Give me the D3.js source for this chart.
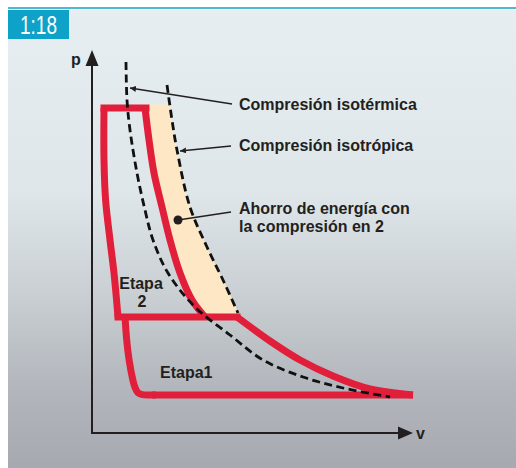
<!DOCTYPE html>
<html>
<head>
<meta charset="utf-8">
<script src="https://cdn.jsdelivr.net/npm/d3@7"></script>
<style>
  body { margin: 0; background: #fff; }
  svg { display: block; }
  .lbl { font-family: "Liberation Sans", Arial, sans-serif; font-weight: bold; fill: #231f20; }
</style>
</head>
<body>
<div id="chart"></div>
<script>
// p-v diagram values (v, p) in arbitrary units
var stage2Left = [[0.6, 16.25], [0.6, 13.65], [0.68, 11.65], [0.9, 9.65], [1.1, 8.0], [1.3, 5.8]];
var stage2Top = [[0.6, 16.25], [2.7, 16.25]];
var stage2Curve = [[2.65, 16.25], [2.85, 14.65], [3.1, 13.0], [3.5, 11.3], [3.9, 9.65], [4.4, 8.0], [5.0, 6.65], [5.65, 5.8]];
var midLine = [[1.3, 5.8], [7.25, 5.8]];
var stage1Left = [[1.65, 5.8], [1.72, 4.7], [1.85, 3.6], [2.05, 2.55], [2.25, 1.9], [2.8, 1.9], [3.2, 1.9]];
var stage1Bottom = [[3.0, 1.9], [16.05, 1.9]];
var stage1Curve = [[7.25, 5.8], [8.9, 4.6], [10.4, 3.65], [12.05, 2.85], [13.9, 2.2], [16.05, 1.9]];
var isothermal = [[1.7, 18.55], [1.75, 16.65], [1.9, 15.15], [2.25, 13.0], [2.65, 11.15], [3.05, 9.65], [3.8, 8.0], [5.15, 6.3], [6.9, 4.9], [8.55, 3.65], [10.55, 2.8], [12.55, 2.25], [14.9, 1.8]];
var isotropic = [[3.75, 17.4], [4.0, 15.65], [4.25, 14.15], [4.9, 11.3], [5.75, 9.3], [6.55, 7.65], [7.3, 6.0]];

// annotation anchors (v, p) and their texts
var notes = [
  { anchor: [1.9, 17.25], tail: [232, 104], lines: ["Compresión isotérmica"], y: 110, mark: "arrow" },
  { anchor: [4.4, 14.1], tail: [231, 146], lines: ["Compresión isotrópica"], y: 151, mark: "arrow" },
  { anchor: [4.3, 10.65], tail: [231, 212], lines: ["Ahorro de energía con", "la compresión en 2"], y: 214, mark: "dot" }
];

var svgWidth = 516;
var svgHeight = 468;

var svg = d3.select("#chart")
  .append("svg")
  .attr("width", svgWidth)
  .attr("height", svgHeight);

var defs = svg.append("defs");

var grad = defs.append("linearGradient")
  .attr("id", "bg")
  .attr("x1", 0).attr("y1", 0).attr("x2", 0).attr("y2", 1);
grad.append("stop").attr("offset", "0%").attr("stop-color", "#e6eef1");
grad.append("stop").attr("offset", "40%").attr("stop-color", "#dfe6ea");
grad.append("stop").attr("offset", "62%").attr("stop-color", "#c9cfd3");
grad.append("stop").attr("offset", "82%").attr("stop-color", "#b3b7bd");
grad.append("stop").attr("offset", "100%").attr("stop-color", "#a6aab0");

defs.append("marker")
  .attr("id", "head")
  .attr("viewBox", "0 0 10 10")
  .attr("refX", 10).attr("refY", 5)
  .attr("markerWidth", 6).attr("markerHeight", 6)
  .attr("markerUnits", "userSpaceOnUse")
  .attr("orient", "auto")
  .append("path")
  .attr("d", "M0,0L10,5L0,10Z")
  .attr("fill", "#231f20");

// panel + header
svg.append("rect")
  .attr("x", 8).attr("y", 10)
  .attr("width", svgWidth - 8).attr("height", svgHeight - 10)
  .attr("fill", "url(#bg)");

svg.append("line")
  .attr("x1", 8).attr("x2", svgWidth)
  .attr("y1", 8).attr("y2", 8)
  .attr("stroke", "#11a3c9")
  .attr("stroke-width", 1.5);

svg.append("rect")
  .attr("x", 8).attr("y", 10)
  .attr("width", 61).attr("height", 29)
  .attr("fill", "#0ea2c8");

svg.append("text")
  .attr("x", 20).attr("y", 34)
  .attr("font-family", "'Liberation Sans', Arial, sans-serif")
  .attr("font-size", 26)
  .attr("textLength", 37)
  .attr("lengthAdjust", "spacingAndGlyphs")
  .attr("fill", "#ffffff")
  .text("1:18");

// scales
var x = d3.scaleLinear().domain([0, 16]).range([92, 412]);
var y = d3.scaleLinear().domain([0, 19]).range([433, 53]);

var curve = d3.line()
  .x(d => x(d[0]))
  .y(d => y(d[1]))
  .curve(d3.curveCatmullRom.alpha(0.5));

var smooth = d3.line()
  .x(d => x(d[0]))
  .y(d => y(d[1]))
  .curve(d3.curveBasis);

var straight = d3.line()
  .x(d => x(d[0]))
  .y(d => y(d[1]));

// energy saving area between isotropic curve and stage 2 compression
defs.append("clipPath")
  .attr("id", "clipTop")
  .append("rect")
  .attr("x", 0).attr("y", y(16.25) - 3.5)
  .attr("width", svgWidth).attr("height", y(5.8) - y(16.25) + 3.5);

var areaPts = isotropic.concat([[7.3, 5.8]]).concat([[5.65, 5.8]])
  .concat(stage2Curve.slice().reverse()).concat([[2.65, 17.4]]);

svg.append("path")
  .attr("d", curve(areaPts) )
  .attr("fill", "#fde7c4")
  .attr("clip-path", "url(#clipTop)");

// axes
var axisColor = "#231f20";
svg.append("line")
  .attr("x1", x(0)).attr("x2", x(0))
  .attr("y1", y(0)).attr("y2", 64)
  .attr("stroke", axisColor).attr("stroke-width", 2);
svg.append("path")
  .attr("d", `M${x(0)},50L${x(0) + 6.5},66L${x(0) - 6.5},66Z`)
  .attr("fill", axisColor);
svg.append("line")
  .attr("x1", x(0) - 1).attr("x2", 400)
  .attr("y1", y(0)).attr("y2", y(0))
  .attr("stroke", axisColor).attr("stroke-width", 2);
svg.append("path")
  .attr("d", `M413,${y(0)}L398,${y(0) - 6.5}L398,${y(0) + 6.5}Z`)
  .attr("fill", axisColor);

svg.append("text").attr("class", "lbl").attr("x", 71).attr("y", 65).attr("font-size", 16).text("p");
svg.append("text").attr("class", "lbl").attr("x", 416).attr("y", 439).attr("font-size", 16).text("v");

// red cycle
var red = "#e21f3b";
var redW = 7;

[stage2Top, midLine, stage1Bottom].forEach(function(seg, i) {
  svg.append("path")
    .attr("d", straight(seg))
    .attr("fill", "none")
    .attr("stroke", red)
    .attr("stroke-width", redW)
    .attr("stroke-linecap", i === 2 ? "butt" : "square");
});

[stage2Left, stage2Curve, stage1Curve].forEach(function(seg) {
  svg.append("path")
    .attr("d", curve(seg))
    .attr("fill", "none")
    .attr("stroke", red)
    .attr("stroke-width", redW)
    .attr("stroke-linecap", "butt");
});

svg.append("path")
  .attr("d", smooth(stage1Left))
  .attr("fill", "none")
  .attr("stroke", red)
  .attr("stroke-width", redW);

// dashed reference compressions
[isothermal, isotropic].forEach(function(seg) {
  svg.append("path")
    .attr("d", curve(seg))
    .attr("fill", "none")
    .attr("stroke", "#111")
    .attr("stroke-width", 2.8)
    .attr("stroke-dasharray", "8,4.5");
});

// annotations
notes.forEach(function(n) {
  var ax = x(n.anchor[0]), ay = y(n.anchor[1]);
  var ln = svg.append("line")
    .attr("x1", n.tail[0]).attr("y1", n.tail[1])
    .attr("x2", ax).attr("y2", ay)
    .attr("stroke", "#231f20")
    .attr("stroke-width", 1.6);
  if (n.mark === "arrow") {
    ln.attr("marker-end", "url(#head)");
  } else {
    svg.append("circle")
      .attr("cx", ax).attr("cy", ay)
      .attr("r", 4.5)
      .attr("fill", "#231f20");
  }
  n.lines.forEach(function(t, k) {
    svg.append("text")
      .attr("class", "lbl")
      .attr("x", 239)
      .attr("y", n.y + k * 18)
      .attr("font-size", 16)
      .text(t);
  });
});

// stage labels
svg.append("text").attr("class", "lbl").attr("x", 141).attr("y", 289).attr("font-size", 16)
  .attr("text-anchor", "middle").text("Etapa");
svg.append("text").attr("class", "lbl").attr("x", 142).attr("y", 307).attr("font-size", 16)
  .attr("text-anchor", "middle").text("2");
svg.append("text").attr("class", "lbl").attr("x", 160).attr("y", 378).attr("font-size", 16)
  .text("Etapa1");
</script>
</body>
</html>
